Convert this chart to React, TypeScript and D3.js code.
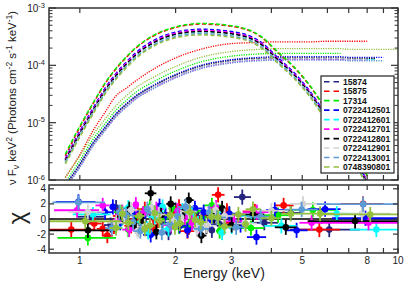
import React from 'react';
import * as d3 from 'd3';

// ---------- data ----------
const OBS_IDS = ['15874', '15875', '17314', '0722412501', '0722412601', '0722412701', '0722412801', '0722412901', '0722413001', '0748390801'];
const OBS_COLORS = ['#25257f', '#ff0000', '#00ee00', '#0000ff', '#00ffff', '#ff00ff', '#000000', '#d2d2d2', '#5b9bd5', '#92c03c'];

// energy grid (keV) for model curves
const MODEL_E = [0.9, 1.0, 1.1, 1.2, 1.3, 1.4, 1.5, 1.7, 2.0, 2.4, 3.0, 3.7, 4.2, 4.7, 5.3, 6.0, 6.6, 7.0, 8.0, 8.5, 9.0, 10.0];

// dashed (thermal) component, log10 of nu F nu
const DASH_15874 = [-5.65, -5.18, -4.78, -4.43, -4.17, -3.97, -3.81, -3.60, -3.45, -3.40, -3.44, -3.62, -3.90, -4.15, -4.49, -4.93, -5.24, -5.45, -6.05];
const DASH_15875 = [-5.58, -5.08, -4.67, -4.32, -4.06, -3.86, -3.70, -3.49, -3.34, -3.28, -3.32, -3.50, -3.78, -4.03, -4.37, -4.81, -5.12, -5.33, -5.93];
const DASH_17314 = [-5.55, -5.06, -4.66, -4.31, -4.05, -3.85, -3.69, -3.48, -3.33, -3.27, -3.31, -3.49, -3.77, -4.02, -4.36, -4.80, -5.11, -5.32, -5.92];
const DASH_0722412501 = [-5.63, -5.15, -4.75, -4.40, -4.14, -3.94, -3.78, -3.57, -3.42, -3.37, -3.41, -3.59, -3.87, -4.12, -4.46, -4.90, -5.21, -5.42, -6.02];
const DASH_0722412601 = [-5.68, -5.21, -4.81, -4.46, -4.20, -4.00, -3.84, -3.63, -3.48, -3.43, -3.47, -3.65, -3.93, -4.18, -4.52, -4.96, -5.27, -5.48, -6.08];
const DASH_0722412701 = [-5.64, -5.17, -4.77, -4.42, -4.16, -3.96, -3.80, -3.59, -3.44, -3.39, -3.43, -3.61, -3.89, -4.14, -4.48, -4.92, -5.23, -5.44, -6.04];
const DASH_0722412801 = [-5.66, -5.19, -4.79, -4.44, -4.18, -3.98, -3.82, -3.61, -3.46, -3.41, -3.45, -3.63, -3.91, -4.16, -4.50, -4.94, -5.25, -5.46, -6.06];
const DASH_0722412901 = [-5.69, -5.22, -4.82, -4.47, -4.21, -4.01, -3.85, -3.64, -3.49, -3.44, -3.48, -3.66, -3.94, -4.19, -4.53, -4.97, -5.28, -5.49, -6.09];
const DASH_0722413001 = [-5.70, -5.23, -4.83, -4.48, -4.22, -4.02, -3.86, -3.65, -3.50, -3.45, -3.49, -3.67, -3.95, -4.20, -4.54, -4.98, -5.29, -5.50, -6.10];
const DASH_0748390801 = [-5.72, -5.25, -4.85, -4.50, -4.24, -4.04, -3.88, -3.67, -3.52, -3.47, -3.51, -3.69, -3.97, -4.22, -4.56, -5.00, -5.31, -5.52, -6.12];

// dotted (power-law) component, log10 of nu F nu
const DOT_15874 = [-6.10, -5.73, -5.36, -5.09, -4.85, -4.68, -4.54, -4.36, -4.17, -4.01, -3.91, -3.88, -3.88, -3.88, -3.88, -3.89, -3.89, -3.89, -3.89, -3.89];
const DOT_15875 = [-5.96, -5.56, -5.14, -4.82, -4.53, -4.40, -4.27, -4.07, -3.87, -3.72, -3.62, -3.60, -3.59, -3.59, -3.59, -3.58, -3.58, -3.58, -3.58];
const DOT_17314 = [-6.04, -5.66, -5.29, -5.02, -4.78, -4.61, -4.47, -4.29, -4.10, -3.94, -3.84, -3.80, -3.79, -3.79, -3.79, -3.79, -3.79];
const DOT_0722412501 = [-6.09, -5.72, -5.35, -5.08, -4.84, -4.67, -4.53, -4.35, -4.16, -4.00, -3.90, -3.86, -3.85, -3.85, -3.85, -3.85, -3.85, -3.86, -3.86, -3.86, -3.86];
const DOT_0722412601 = [-6.13, -5.76, -5.39, -5.12, -4.88, -4.71, -4.57, -4.39, -4.20, -4.04, -3.94, -3.90, -3.89, -3.89, -3.89, -3.89, -3.89, -3.90, -3.90, -3.90];
const DOT_0722412701 = [-6.14, -5.77, -5.40, -5.13, -4.89, -4.72, -4.58, -4.40, -4.21, -4.05, -3.95, -3.91, -3.90, -3.90, -3.90, -3.90, -3.90, -3.91, -3.91];
const DOT_0722412801 = [-6.11, -5.74, -5.37, -5.10, -4.86, -4.69, -4.55, -4.37, -4.18, -4.02, -3.92, -3.88, -3.87, -3.87, -3.87, -3.87, -3.87, -3.88, -3.88, -3.88];
const DOT_0722412901 = [-6.12, -5.75, -5.38, -5.11, -4.87, -4.70, -4.56, -4.38, -4.19, -4.03, -3.93, -3.89, -3.88, -3.88, -3.88, -3.88, -3.88, -3.89, -3.89];
const DOT_0722413001 = [-6.15, -5.78, -5.41, -5.14, -4.90, -4.73, -4.59, -4.41, -4.22, -4.06, -3.96, -3.92, -3.91, -3.91, -3.91, -3.91, -3.91, -3.92, -3.92, -3.92, -3.92];
const DOT_0748390801 = [-5.95, -5.58, -5.21, -4.94, -4.70, -4.53, -4.39, -4.21, -4.02, -3.86, -3.76, -3.72, -3.71, -3.71, -3.71, -3.71, -3.71, -3.72, -3.72, -3.72, -3.72, -3.72];

// residuals: [energy, bin low, bin high, chi]
const RES_15874 = [[1.08, 0.98, 1.19, 0.3], [1.25, 1.19, 1.31, -0.8], [1.3, 1.27, 1.34, 1.5], [1.38, 1.31, 1.45, 0.6], [1.52, 1.45, 1.59, -1.3], [1.58, 1.55, 1.62, -0.2], [1.66, 1.59, 1.74, 0.9], [1.82, 1.74, 1.91, -0.4], [1.9, 1.86, 1.94, -1.8], [2.0, 1.91, 2.1, 1.2], [2.2, 2.1, 2.32, -1.1], [2.32, 2.27, 2.38, 0.8], [2.45, 2.32, 2.6, 0.4], [2.6, 2.55, 2.66, -1.5], [2.75, 2.6, 2.92, -0.7], [2.95, 2.88, 3.02, 0.3], [3.24, 3.05, 3.45, 2.9], [3.8, 3.45, 4.2, -0.5], [4.6, 4.2, 5.0, 0.8], [6.08, 4.58, 7.59, -1.4]];
const RES_15875 = [[0.94, 0.8, 1.12, -1.4], [1.11, 1.06, 1.17, -0.6], [1.18, 1.13, 1.23, -1.3], [1.22, 1.18, 1.27, -2.2], [1.28, 1.25, 1.31, -1.0], [1.32, 1.27, 1.38, 0.4], [1.45, 1.38, 1.52, -0.9], [1.52, 1.48, 1.56, 0.6], [1.6, 1.52, 1.68, 1.3], [1.7, 1.66, 1.74, -1.1], [1.76, 1.68, 1.85, -0.2], [1.95, 1.85, 2.05, 0.8], [2.05, 2.0, 2.1, 1.6], [2.18, 2.05, 2.3, -1.6], [2.32, 2.27, 2.37, -0.4], [2.45, 2.3, 2.6, 0.2], [2.72, 2.6, 2.85, 3.2], [2.9, 2.83, 2.97, 1.1], [3.05, 2.85, 3.25, -0.5], [3.55, 3.25, 3.9, 1.0], [4.37, 4.1, 4.7, 1.8], [5.66, 4.93, 6.57, -1.4], [7.77, 6.6, 9.0, 2.0]];
const RES_17314 = [[1.06, 0.85, 1.3, -2.5], [1.35, 1.28, 1.42, 0.9], [1.42, 1.39, 1.45, -1.4], [1.5, 1.42, 1.58, -0.6], [1.58, 1.55, 1.62, 0.5], [1.66, 1.58, 1.75, 1.6], [1.85, 1.75, 1.95, 0.2], [1.95, 1.9, 2.0, 1.4], [2.05, 1.95, 2.16, -1.0], [2.2, 2.15, 2.25, -0.7], [2.3, 2.16, 2.45, 1.1], [2.45, 2.4, 2.5, 0.0], [2.6, 2.45, 2.78, 1.8], [2.75, 2.68, 2.82, -1.6], [2.95, 2.78, 3.15, 0.6], [3.45, 3.15, 3.8, -1.2], [4.2, 3.8, 4.7, 0.5], [5.4, 4.7, 6.5, 1.2]];
const RES_0722412501 = [[0.99, 0.84, 1.12, 2.27], [1.2, 1.13, 1.27, 0.9], [1.27, 1.24, 1.3, 1.6], [1.34, 1.27, 1.41, -0.5], [1.48, 1.41, 1.56, 1.0], [1.58, 1.54, 1.62, 0.3], [1.67, 1.58, 1.76, -2.1], [1.78, 1.74, 1.82, 1.7], [1.86, 1.76, 1.96, 0.5], [2.06, 1.96, 2.17, -0.9], [2.18, 2.13, 2.23, -1.5], [2.3, 2.17, 2.43, 1.4], [2.45, 2.4, 2.5, 0.9], [2.6, 2.43, 2.75, -0.2], [2.95, 2.75, 3.15, 0.7], [3.2, 3.1, 3.3, -0.8], [3.59, 3.35, 3.85, -2.4], [4.1, 3.85, 4.4, 1.2], [4.8, 4.4, 5.2, -1.5], [5.9, 5.2, 6.6, 1.3], [7.9, 6.2, 10, 0.1]];
const RES_0722412601 = [[1.1, 0.95, 1.25, 0.6], [1.3, 1.25, 1.36, -1.1], [1.36, 1.33, 1.39, 0.2], [1.42, 1.36, 1.49, 1.5], [1.56, 1.49, 1.64, -0.4], [1.64, 1.6, 1.68, -1.7], [1.72, 1.64, 1.81, 0.3], [1.82, 1.78, 1.86, 1.6], [1.9, 1.81, 2.0, -1.3], [2.0, 1.96, 2.04, -0.2], [2.1, 2.0, 2.21, 1.1], [2.25, 2.2, 2.3, 0.5], [2.35, 2.21, 2.5, -0.6], [2.65, 2.5, 2.8, 0.9], [2.8, 2.72, 2.88, -1.8], [3.0, 2.8, 3.2, -1.0], [3.5, 3.2, 3.8, 0.4], [4.3, 3.8, 4.8, -0.9], [6.42, 5.8, 7.1, 0.7], [8.55, 7.06, 10, -1.4]];
const RES_0722412701 = [[0.98, 0.83, 1.15, 1.16], [1.18, 1.12, 1.24, 1.8], [1.3, 1.24, 1.36, -0.3], [1.36, 1.33, 1.39, 0.9], [1.43, 1.36, 1.5, -1.4], [1.5, 1.47, 1.53, 1.9], [1.58, 1.5, 1.66, 0.7], [1.66, 1.62, 1.7, -0.9], [1.74, 1.66, 1.83, 1.3], [1.93, 1.83, 2.03, -0.8], [2.03, 1.98, 2.08, 1.1], [2.14, 2.03, 2.25, 0.2], [2.25, 2.2, 2.3, -0.5], [2.38, 2.25, 2.52, -1.2], [2.68, 2.52, 2.85, 1.5], [2.85, 2.78, 2.92, 0.4], [3.05, 2.85, 3.25, -0.3], [3.6, 3.25, 3.95, 0.9], [5.35, 4.9, 5.8, -0.5], [8.08, 5.7, 10, -0.5]];
const RES_0722412801 = [[1.06, 0.8, 1.31, -1.5], [1.36, 1.29, 1.43, 0.3], [1.43, 1.4, 1.46, 1.3], [1.5, 1.43, 1.58, -0.9], [1.58, 1.55, 1.61, -0.3], [1.67, 1.6, 1.74, 3.4], [1.74, 1.71, 1.77, -1.7], [1.8, 1.74, 1.87, 0.5], [1.93, 1.87, 2.0, 2.0], [2.06, 2.0, 2.13, -0.6], [2.13, 2.09, 2.17, 1.0], [2.2, 2.13, 2.28, 2.5], [2.41, 2.32, 2.5, -2.2], [2.5, 2.45, 2.55, -1.0], [2.65, 2.5, 2.8, 0.4], [2.8, 2.73, 2.87, 1.4], [3.0, 2.8, 3.2, -0.8], [3.5, 3.2, 3.8, 0.6], [4.44, 4.1, 4.8, -1.1], [7.33, 5.2, 10, -0.27]];
const RES_0722412901 = [[1.06, 0.92, 1.2, 0.93], [1.3, 1.22, 1.38, -0.5], [1.38, 1.35, 1.41, 0.3], [1.45, 1.38, 1.52, 1.2], [1.52, 1.49, 1.55, -1.6], [1.6, 1.52, 1.68, -1.0], [1.68, 1.64, 1.72, 1.5], [1.77, 1.68, 1.86, 0.6], [1.97, 1.86, 2.08, -0.3], [2.08, 2.03, 2.13, 0.2], [2.2, 2.08, 2.33, 1.0], [2.33, 2.28, 2.38, -1.4], [2.5, 2.33, 2.67, -0.9], [2.67, 2.6, 2.74, 1.2], [2.85, 2.67, 3.05, 0.4], [3.3, 3.05, 3.6, -0.6], [4.0, 3.6, 4.5, 1.1], [5.03, 4.58, 6.1, 2.0], [7.7, 6.5, 9.5, 0.7]];
const RES_0722413001 = [[0.99, 0.82, 1.2, 2.2], [1.26, 1.2, 1.33, -1.2], [1.33, 1.3, 1.36, 0.9], [1.4, 1.33, 1.47, 0.5], [1.47, 1.44, 1.5, -0.4], [1.55, 1.47, 1.63, -1.6], [1.63, 1.6, 1.67, 1.3], [1.72, 1.63, 1.81, 0.8], [1.81, 1.77, 1.85, -1.8], [1.92, 1.81, 2.03, -0.7], [2.03, 1.98, 2.08, 0.4], [2.15, 2.03, 2.28, 1.6], [2.4, 2.28, 2.55, -1.3], [2.55, 2.49, 2.61, 0.9], [2.7, 2.55, 2.88, 0.2], [3.1, 2.88, 3.35, -1.1], [3.7, 3.35, 4.1, 0.3], [4.98, 4.4, 5.6, 1.25], [7.77, 5.56, 10, 1.96]];
const RES_0748390801 = [[1.04, 0.8, 1.34, -0.3], [1.3, 1.24, 1.36, -1.2], [1.36, 1.33, 1.39, 0.7], [1.42, 1.36, 1.48, -0.5], [1.54, 1.48, 1.6, 0.4], [1.6, 1.57, 1.63, -1.3], [1.66, 1.6, 1.72, -0.9], [1.72, 1.69, 1.75, 0.8], [1.78, 1.72, 1.85, -0.2], [1.92, 1.85, 1.99, 0.5], [1.99, 1.95, 2.03, -1.1], [2.06, 1.99, 2.13, -0.6], [2.22, 2.13, 2.3, 0.9], [2.3, 2.26, 2.34, -0.1], [2.4, 2.3, 2.5, -0.4], [2.6, 2.5, 2.72, 0.3], [2.72, 2.66, 2.78, 0.2], [2.85, 2.72, 3.0, -1.0], [3.15, 3.0, 3.32, 0.6], [3.32, 3.24, 3.4, -0.7], [3.5, 3.32, 3.7, 1.3], [4.0, 3.7, 4.3, 0.1], [4.6, 4.3, 5.0, 0.7], [5.69, 5.0, 6.3, 0.7], [8.18, 5.7, 10, 0.6]];
const RES_ERR = 1.0;

const DASHED = [DASH_15874, DASH_15875, DASH_17314, DASH_0722412501, DASH_0722412601, DASH_0722412701, DASH_0722412801, DASH_0722412901, DASH_0722413001, DASH_0748390801];
const DOTTED = [DOT_15874, DOT_15875, DOT_17314, DOT_0722412501, DOT_0722412601, DOT_0722412701, DOT_0722412801, DOT_0722412901, DOT_0722413001, DOT_0748390801];
const RESID = [RES_15874, RES_15875, RES_17314, RES_0722412501, RES_0722412601, RES_0722412701, RES_0722412801, RES_0722412901, RES_0722413001, RES_0748390801];

const X_TICKS = [1, 2, 3, 4, 5, 6, 7, 8, 9, 10];
const X_LABELS = [1, 2, 3, 5, 8, 10];
const Y_DECADES = [-6, -5, -4, -3];
const RES_TICKS = [-4, -2, 0, 2, 4];

// ---------- layout ----------
const W = 407, H = 284;
const X0 = 49, X1 = 398;
const TY0 = 8, TY1 = 180;
const RY0 = 185, RY1 = 253;
const FONT = '"Liberation Sans", Arial, Helvetica, sans-serif';
const AXC = '#333';

export default function App() {
  const x = d3.scaleLog().domain([0.8, 10]).range([X0, X1]);
  const yT = d3.scaleLog().domain([1e-6, 1e-3]).range([TY1, TY0]);
  const yR = d3.scaleLinear().domain([-4.5, 4.5]).range([RY1, RY0]);
  const line = d3.line<[number, number]>().x(d => x(d[0])).y(d => yT(d[1])).curve(d3.curveMonotoneX);
  const toPts = (arr: number[]) => arr.map((v, i) => [MODEL_E[i], Math.pow(10, v)] as [number, number]);

  const minorY: number[] = [];
  for (let d = -6; d < -3; d++) for (let m = 2; m <= 9; m++) minorY.push(m * Math.pow(10, d));

  const legendX = 321, legendY = 76, legendW = 73, legendH = 97;

  return (
    <svg width={W} height={H} style={{ position: 'absolute', left: 0, top: 0, background: '#fff' }} fontFamily={FONT}>
      <defs>
        <clipPath id="ctop"><rect x={X0} y={TY0} width={X1 - X0} height={TY1 - TY0} /></clipPath>
        <clipPath id="cres"><rect x={X0} y={RY0} width={X1 - X0} height={RY1 - RY0} /></clipPath>
      </defs>
      <rect x={0} y={0} width={W} height={H} fill="#fff" />

      {/* model curves */}
      <g clipPath="url(#ctop)" fill="none">
        {DOTTED.map((arr, i) => (
          <path key={'dt' + i} d={line(toPts(arr)) || ''} stroke={OBS_COLORS[i]} strokeWidth={1.3} strokeDasharray="1.2,1.2" />
        ))}
        {DASHED.map((arr, i) => (
          <path key={'ds' + i} d={line(toPts(arr)) || ''} stroke={OBS_COLORS[i]} strokeWidth={1.5} strokeDasharray="4,2.5" />
        ))}
      </g>

      {/* top frame + ticks */}
      <rect x={X0} y={TY0} width={X1 - X0} height={TY1 - TY0} fill="none" stroke={AXC} strokeWidth={1.5} />
      {X_TICKS.map(t => (
        <g key={'xt' + t} stroke={AXC} strokeWidth={1.2}>
          <line x1={x(t)} x2={x(t)} y1={TY1} y2={TY1 - 5} />
          <line x1={x(t)} x2={x(t)} y1={TY0} y2={TY0 + 5} />
          <line x1={x(t)} x2={x(t)} y1={RY1} y2={RY1 - 5} />
          <line x1={x(t)} x2={x(t)} y1={RY0} y2={RY0 + 5} />
        </g>
      ))}
      {Y_DECADES.map(d => (
        <g key={'yd' + d} stroke={AXC} strokeWidth={1.2}>
          <line x1={X0} x2={X0 + 7} y1={yT(Math.pow(10, d))} y2={yT(Math.pow(10, d))} />
          <line x1={X1} x2={X1 - 7} y1={yT(Math.pow(10, d))} y2={yT(Math.pow(10, d))} />
        </g>
      ))}
      {minorY.map((v, i) => (
        <g key={'ym' + i} stroke={AXC} strokeWidth={1}>
          <line x1={X0} x2={X0 + 3.5} y1={yT(v)} y2={yT(v)} />
          <line x1={X1} x2={X1 - 3.5} y1={yT(v)} y2={yT(v)} />
        </g>
      ))}
      {Y_DECADES.map(d => (
        <text key={'yl' + d} x={45} y={yT(Math.pow(10, d)) + 4} textAnchor="end" fontSize={10} fill="#222">
          10<tspan dy={-4.5} fontSize={7.5}>{String(d)}</tspan>
        </text>
      ))}

      {/* y title */}
      <text transform={`translate(16,98) rotate(-90)`} textAnchor="middle" fontSize={11.5} fill="#222">
        ν F<tspan dy={3} fontSize={8.5}>ν</tspan><tspan dy={-3}> keV</tspan><tspan dy={-4} fontSize={8.5}>2</tspan>
        <tspan dy={4}> (Photons cm</tspan><tspan dy={-4} fontSize={8.5}>-2</tspan><tspan dy={4}> s</tspan>
        <tspan dy={-4} fontSize={8.5}>-1</tspan><tspan dy={4}> keV</tspan><tspan dy={-4} fontSize={8.5}>-1</tspan><tspan dy={4}>)</tspan>
      </text>

      {/* legend */}
      <rect x={legendX} y={legendY} width={legendW} height={legendH} fill="#fff" stroke="#222" strokeWidth={1.2} />
      {OBS_IDS.map((id, i) => {
        const yy = 81.7 + i * 9.48;
        return (
          <g key={'lg' + id}>
            <line x1={324} x2={339} y1={yy} y2={yy} stroke={OBS_COLORS[i]} strokeWidth={1.6} strokeDasharray="5.5,4" />
            <text x={343} y={yy + 3} fontSize={8.5} fontWeight="bold" fill="#111">{id}</text>
          </g>
        );
      })}

      {/* residuals */}
      <line x1={X0} x2={X1} y1={yR(0)} y2={yR(0)} stroke="#000" strokeWidth={1.3} />
      <g clipPath="url(#cres)">
        {RESID.map((arr, i) => (
          <g key={'rs' + i} stroke={OBS_COLORS[i]} fill={OBS_COLORS[i]}>
            {arr.map((p, j) => (
              <g key={j}>
                <line x1={x(p[1])} x2={x(p[2])} y1={yR(p[3])} y2={yR(p[3])} strokeWidth={1.8} />
                <line x1={x(p[0])} x2={x(p[0])} y1={yR(p[3] - RES_ERR)} y2={yR(p[3] + RES_ERR)} strokeWidth={1.8} />
                <circle cx={x(p[0])} cy={yR(p[3])} r={3.3} stroke="none" />
              </g>
            ))}
          </g>
        ))}
      </g>
      <rect x={X0} y={RY0} width={X1 - X0} height={RY1 - RY0} fill="none" stroke={AXC} strokeWidth={1.5} />
      {RES_TICKS.map(t => (
        <g key={'rt' + t}>
          <line x1={X0} x2={X0 + 5} y1={yR(t)} y2={yR(t)} stroke={AXC} strokeWidth={1.2} />
          <line x1={X1} x2={X1 - 5} y1={yR(t)} y2={yR(t)} stroke={AXC} strokeWidth={1.2} />
          <text x={46} y={yR(t) + 3.5} textAnchor="end" fontSize={10} fill="#222">{String(t)}</text>
        </g>
      ))}
      <text transform={`translate(25,218) rotate(-90)`} textAnchor="middle" fontSize={24} fill="#222">χ</text>

      {X_LABELS.map(t => (
        <text key={'xl' + t} x={x(t)} y={264} textAnchor="middle" fontSize={10} fill="#222">{String(t)}</text>
      ))}
      <text x={224} y={278} textAnchor="middle" fontSize={14} fill="#222">Energy (keV)</text>
    </svg>
  );
}
